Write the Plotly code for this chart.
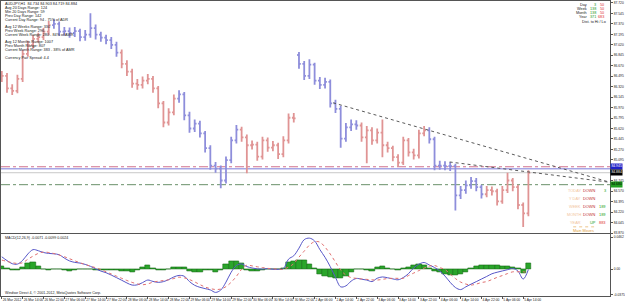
import plotly.graph_objects as go

# ---------------- DATA ----------------
# 2-hour bars, x = hours since 26 Mar 2012 00:00 (chart time axis, weekend removed)
bar_hours = list(range(0, 204, 2))

opens = [86.45, 86.50, 86.29, 86.25, 86.45, 86.87, 87.02, 87.12, 87.15, 87.24,
         87.35, 87.37, 87.24, 87.25, 87.22, 87.25, 87.15, 87.19, 87.30, 87.19,
         87.14, 87.10, 87.02, 86.89, 86.70, 86.57, 86.37, 86.35, 86.42, 86.45,
         86.29, 86.04, 85.72, 85.89, 86.12, 86.19, 85.84, 85.62, 85.70, 85.54,
         85.29, 85.00, 84.95, 84.75, 85.09, 85.42, 85.60, 85.47, 85.34, 85.35,
         85.15, 85.42, 85.30, 85.34, 85.19, 85.42, 85.80, 86.85, 86.70, 86.50,
         86.69, 86.42, 86.35, 86.40, 86.04, 85.95, 85.45, 85.64, 85.69, 85.67,
         85.47, 85.59, 85.42, 85.55, 85.34, 85.29, 85.14, 85.05, 85.42, 85.22,
         85.17, 85.54, 85.59, 85.44, 85.00, 85.00, 84.99, 84.99, 84.50, 84.59,
         84.67, 84.74, 84.64, 84.52, 84.59, 84.57, 84.40, 84.59, 84.75, 84.64,
         84.34, 84.20]
highs = [86.58, 86.55, 86.36, 86.52, 86.93, 87.09, 87.18, 87.22, 87.30, 87.42,
         87.45, 87.41, 87.32, 87.31, 87.32, 87.29, 87.27, 87.55, 87.36, 87.24,
         87.19, 87.15, 87.07, 86.94, 86.76, 86.62, 86.45, 86.49, 86.53, 86.50,
         86.33, 86.08, 85.96, 86.19, 86.26, 86.23, 85.90, 85.77, 85.75, 85.58,
         85.34, 85.06, 85.00, 85.15, 85.48, 85.68, 85.65, 85.52, 85.42, 85.40,
         85.48, 85.47, 85.41, 85.38, 85.49, 85.87, 85.88, 86.90, 86.75, 86.78,
         86.72, 86.48, 86.47, 86.44, 86.10, 86.00, 85.71, 85.77, 85.76, 85.72,
         85.66, 85.64, 85.62, 85.77, 85.40, 85.33, 85.19, 85.48, 85.46, 85.28,
         85.60, 85.66, 85.64, 85.48, 85.08, 85.07, 85.06, 85.03, 84.66, 84.75,
         84.81, 84.79, 84.68, 84.66, 84.65, 84.61, 84.66, 84.88, 84.79, 84.68,
         84.38, 84.92]
lows = [86.40, 86.22, 86.18, 86.21, 86.40, 86.82, 86.96, 87.06, 87.10, 87.18,
        87.29, 87.17, 87.17, 87.14, 87.15, 87.08, 87.09, 87.14, 87.11, 87.07,
        87.03, 86.95, 86.82, 86.63, 86.50, 86.30, 86.27, 86.29, 86.36, 86.22,
        85.96, 85.64, 85.67, 85.84, 86.05, 85.76, 85.55, 85.56, 85.47, 85.22,
        84.93, 84.88, 84.62, 84.70, 85.04, 85.37, 85.40, 84.87, 85.27, 85.08,
        85.10, 85.23, 85.24, 85.11, 85.14, 85.37, 85.72, 86.62, 86.43, 86.45,
        86.35, 86.28, 86.29, 85.97, 85.88, 85.30, 85.40, 85.58, 85.60, 85.40,
        85.04, 85.35, 85.37, 85.14, 85.22, 85.07, 84.98, 85.01, 85.15, 85.10,
        85.12, 85.49, 85.37, 84.92, 84.93, 84.92, 84.91, 84.25, 84.44, 84.53,
        84.61, 84.57, 84.45, 84.47, 84.50, 84.33, 84.36, 84.54, 84.57, 84.27,
        83.97, 84.15]
closes = [86.50, 86.29, 86.25, 86.45, 86.87, 87.02, 87.12, 87.15, 87.24, 87.35,
          87.37, 87.24, 87.25, 87.22, 87.25, 87.15, 87.19, 87.30, 87.19, 87.14,
          87.10, 87.02, 86.89, 86.70, 86.57, 86.37, 86.35, 86.42, 86.45, 86.29,
          86.04, 85.72, 85.89, 86.12, 86.19, 85.84, 85.62, 85.70, 85.54, 85.29,
          85.00, 84.95, 84.75, 85.09, 85.42, 85.60, 85.47, 85.34, 85.35, 85.15,
          85.42, 85.30, 85.34, 85.19, 85.42, 85.80, 85.79, 86.70, 86.50, 86.69,
          86.42, 86.35, 86.40, 86.04, 85.95, 85.45, 85.64, 85.69, 85.67, 85.47,
          85.59, 85.42, 85.55, 85.34, 85.29, 85.14, 85.05, 85.42, 85.22, 85.17,
          85.54, 85.59, 85.44, 85.00, 85.00, 84.99, 84.99, 84.50, 84.59, 84.67,
          84.74, 84.64, 84.52, 84.59, 84.57, 84.40, 84.59, 84.75, 84.64, 84.34,
          84.20, 84.88]

# colour segments of the bar chart (start index, kind)
segment_starts = [0, 10, 23, 34, 46, 57, 69, 82, 93]
segment_kinds = ["bear", "bull", "bear", "bull", "bear", "bull", "bear", "bull", "bear"]

macd_main = [0.0178, 0.0123, 0.0078, 0.0072, 0.0126, 0.0219, 0.0282, 0.0266, 0.0240, 0.0227,
             0.0221, 0.0208, 0.0159, 0.0118, 0.0097, 0.0087, 0.0068, 0.0040, 0.0003, -0.0029,
             -0.0053, -0.0087, -0.0124, -0.0162, -0.0201, -0.0232, -0.0228, -0.0196, -0.0159, -0.0179,
             -0.0192, -0.0182, -0.0153, -0.0114, -0.0092, -0.0104, -0.0181, -0.0235, -0.0264, -0.0283,
             -0.0302, -0.0338, -0.0303, -0.0189, -0.0045, 0.0052, 0.0075, 0.0036, 0.0016, 0.0003,
             0.0000, 0.0007, -0.0003, -0.0004, 0.0007, 0.0144, 0.0193, 0.0303, 0.0426, 0.0448,
             0.0407, 0.0283, 0.0170, 0.0035, -0.0120, -0.0257, -0.0243, -0.0175, -0.0136, -0.0147,
             -0.0159, -0.0181, -0.0133, -0.0114, -0.0126, -0.0142, -0.0155, -0.0123, -0.0066, 0.0017,
             0.0071, 0.0095, 0.0059, 0.0023, -0.0027, -0.0101, -0.0192, -0.0267, -0.0297, -0.0257,
             -0.0218, -0.0182, -0.0144, -0.0107, -0.0068, -0.0046, -0.0027, -0.0009, 0.0009, -0.0029,
             -0.0144, -0.0007]
macd_signal = [0.0130, 0.0111, 0.0092, 0.0082, 0.0092, 0.0142, 0.0188, 0.0227, 0.0247, 0.0240,
               0.0225, 0.0204, 0.0179, 0.0150, 0.0120, 0.0091, 0.0066, 0.0043, 0.0020, -0.0007,
               -0.0039, -0.0071, -0.0103, -0.0134, -0.0165, -0.0193, -0.0215, -0.0227, -0.0215, -0.0189,
               -0.0176, -0.0166, -0.0155, -0.0137, -0.0117, -0.0127, -0.0152, -0.0186, -0.0225, -0.0260,
               -0.0283, -0.0296, -0.0290, -0.0254, -0.0191, -0.0105, -0.0004, 0.0056, 0.0046, 0.0033,
               0.0022, 0.0010, 0.0004, 0.0000, -0.0004, 0.0029, 0.0079, 0.0173, 0.0260, 0.0347,
               0.0397, 0.0390, 0.0318, 0.0217, 0.0101, -0.0014, -0.0087, -0.0123, -0.0134, -0.0142,
               -0.0149, -0.0156, -0.0159, -0.0149, -0.0137, -0.0134, -0.0134, -0.0134, -0.0094, -0.0058,
               -0.0022, 0.0014, 0.0043, 0.0051, 0.0022, -0.0007, -0.0072, -0.0137, -0.0188, -0.0217,
               -0.0231, -0.0217, -0.0195, -0.0181, -0.0152, -0.0120, -0.0094, -0.0065, -0.0040, -0.0039,
               -0.0039, -0.0058]
macd_hist = [0.0048, 0.0012, -0.0014, -0.0010, 0.0033, 0.0078, 0.0094, 0.0039, -0.0007, -0.0013,
             -0.0004, 0.0004, -0.0020, -0.0032, -0.0023, -0.0004, 0.0001, -0.0003, -0.0017, -0.0022,
             -0.0014, -0.0016, -0.0022, -0.0027, -0.0036, -0.0039, -0.0013, 0.0030, 0.0056, 0.0010,
             -0.0016, -0.0016, 0.0001, 0.0023, 0.0025, 0.0023, -0.0029, -0.0049, -0.0039, -0.0023,
             -0.0019, -0.0042, -0.0013, 0.0065, 0.0108, 0.0116, 0.0079, -0.0020, -0.0030, -0.0030,
             -0.0022, -0.0003, -0.0007, -0.0004, 0.0012, 0.0101, 0.0116, 0.0130, 0.0123, 0.0072,
             0.0010, -0.0072, -0.0101, -0.0116, -0.0130, -0.0130, -0.0101, -0.0052, 0.0000, -0.0006,
             -0.0010, -0.0025, 0.0026, 0.0035, 0.0012, -0.0007, -0.0020, 0.0012, 0.0027, 0.0051,
             0.0065, 0.0058, 0.0016, -0.0027, -0.0049, -0.0072, -0.0087, -0.0087, -0.0072, -0.0040,
             0.0013, 0.0035, 0.0051, 0.0058, 0.0058, 0.0051, 0.0043, 0.0036, 0.0022, 0.0010,
             -0.0058, 0.0087]

# trend lines drawn on the chart (hour, price)
trend_a_hours = [127.1, 233.3]
trend_a_prices = [86.05, 84.72]
trend_b_hours = [171.8, 233.3]
trend_b_prices = [85.06, 84.72]

# horizontal levels
level_pink = 84.98
level_purple = 84.945
level_bid = 84.88
level_green = 84.68

# axis ticks (the 84.920 label is hidden under the price boxes on the original)
price_ticks = [87.720, 87.545, 87.370, 87.195, 87.020, 86.845, 86.670, 86.495, 86.320,
               86.145, 85.970, 85.795, 85.620, 85.445, 85.270, 85.095, 84.745,
               84.570, 84.395, 84.220, 84.045, 83.870]
macd_ticks = [0.0462, 0.0, -0.0375]
macd_tick_text = ["0.0462", "0.00", "-0.0375"]
date_tick_hours = [0, 8, 16, 24, 32, 40, 48, 56, 64, 72, 80, 88, 96, 104, 112,
                   120, 128, 136, 144, 152, 160, 168, 176, 184, 192, 200]
date_tick_labels = ["26 Mar 2012", "26 Mar 14:00", "26 Mar 22:00", "27 Mar 06:00", "27 Mar 14:00",
                    "27 Mar 22:00", "28 Mar 06:00", "28 Mar 14:00", "28 Mar 22:00", "29 Mar 06:00",
                    "29 Mar 14:00", "29 Mar 22:00", "30 Mar 06:00", "30 Mar 14:00", "30 Mar 22:00",
                    "2 Apr 06:00", "2 Apr 14:00", "2 Apr 22:00", "3 Apr 06:00", "3 Apr 14:00",
                    "3 Apr 22:00", "4 Apr 06:00", "4 Apr 14:00", "4 Apr 22:00", "5 Apr 06:00",
                    "5 Apr 14:00"]

info_lines = ["AUDJPY,H1  84.734 84.903 84.719 84.884",
              "Avg 20 Days Range: 124",
              "Min 20 Days Range: 59",
              "Prev Day Range: 142",
              "Current Day Range: 94 - 75% of ADR",
              "Avg 12 Weeks Range: 330",
              "Prev Week Range: 296",
              "Current Week Range: 280 - 84% of AWR",
              "Avg 12 Months Range: 1007",
              "Prev Month Range: 807",
              "Current Month Range: 383 - 38% of AMR",
              "Currency Pair Spread: 4.4"]

range_names = ["Day", "Week", "Month", "Year"]
range_first = ["3", "138", "138", "371"]
range_second = ["50", "50", "50", "683"]

move_names = ["TODAY", "Y DAY", "WEEK", "MONTH", "YEAR"]
move_dirs = ["DOWN", "DOWN", "DOWN", "DOWN", "UP"]
move_pips = ["3", "", "189", "189", "883"]

# ---------------- LAYOUT HELPERS ----------------
W, H = 625, 303
ML, MR, MT, MB = 0, 13, 0, 7
PW = W - ML - MR
PH = H - MT - MB
FONT = "Liberation Sans"


def px(x):
    return x / PW


def py(y):
    return 1 - y / PH


fig = go.Figure()

seg_colors = {"bear": "#e09494", "bull": "#8e8edb"}
bounds = segment_starts + [len(bar_hours)]
for i, kind in enumerate(segment_kinds):
    s, e = bounds[i], bounds[i + 1]
    c = seg_colors[kind]
    fig.add_trace(go.Ohlc(
        x=bar_hours[s:e], open=opens[s:e], high=highs[s:e], low=lows[s:e], close=closes[s:e],
        increasing=dict(line=dict(color=c, width=1.8)),
        decreasing=dict(line=dict(color=c, width=1.8)),
        tickwidth=0.35, xaxis="x", yaxis="y", showlegend=False, hoverinfo="skip"))

for hx, hy in ((trend_a_hours, trend_a_prices), (trend_b_hours, trend_b_prices)):
    fig.add_trace(go.Scatter(x=hx, y=hy, mode="lines", xaxis="x", yaxis="y",
                             line=dict(color="#5a5a5a", width=1, dash="dot"),
                             showlegend=False, hoverinfo="skip"))

fig.add_trace(go.Bar(x=bar_hours, y=macd_hist, xaxis="x2", yaxis="y2", width=2,
                     marker=dict(color="#2aa52a", line=dict(color="#0d600d", width=0.5)),
                     showlegend=False, hoverinfo="skip"))
fig.add_trace(go.Scatter(x=bar_hours, y=macd_main, mode="lines", xaxis="x2", yaxis="y2",
                         line=dict(color="#5656c8", width=1, shape="spline"),
                         showlegend=False, hoverinfo="skip"))
fig.add_trace(go.Scatter(x=bar_hours, y=macd_signal, mode="lines", xaxis="x2", yaxis="y2",
                         line=dict(color="#e07070", width=1, dash="dot", shape="spline"),
                         showlegend=False, hoverinfo="skip"))

shapes = []
for lvl, col, dash, wd in ((level_bid, "#c8c8c8", "solid", 1),
                           (level_pink, "#d0708c", "dashdot", 1),
                           (level_purple, "#7b7bd9", "solid", 1),
                           (level_green, "#6a906a", "dashdot", 1)):
    shapes.append(dict(type="line", xref="paper", yref="y", x0=0, x1=1, y0=lvl, y1=lvl,
                       line=dict(color=col, width=wd, dash=dash), layer="below"))
# dashed rule above "Main Moves"
shapes.append(dict(type="line", xref="paper", yref="paper", x0=px(575), x1=px(596),
                   y0=py(226.6), y1=py(226.6), line=dict(color="#e0a040", width=0.6, dash="dot")))

ann = []
info_y = [3, 7, 11, 15, 19, 26, 30, 34, 41, 45, 49, 57]
for t, yy in zip(info_lines, info_y):
    ann.append(dict(text=t, x=px(2), y=py(yy), xref="paper", yref="paper", xanchor="left",
                    yanchor="middle", showarrow=False, font=dict(size=3.8, color="#202020", family=FONT)))

rows_y = [4, 8, 12, 16]
for name, a, b, yy in zip(range_names, range_first, range_second, rows_y):
    ann.append(dict(text=name, x=px(591), y=py(yy), xref="paper", yref="paper", xanchor="right",
                    yanchor="middle", showarrow=False, font=dict(size=3.8, color="#202020", family=FONT)))
    ann.append(dict(text=a, x=px(600), y=py(yy), xref="paper", yref="paper", xanchor="right",
                    yanchor="middle", showarrow=False, font=dict(size=3.8, color="#1a9a1a", family=FONT)))
    ann.append(dict(text=b, x=px(608), y=py(yy), xref="paper", yref="paper", xanchor="right",
                    yanchor="middle", showarrow=False, font=dict(size=3.8, color="#e03030", family=FONT)))
ann.append(dict(text="Dist. to Hi / Lo", x=px(596), y=py(21.5), xref="paper", yref="paper",
                xanchor="center", yanchor="middle", showarrow=False,
                font=dict(size=3.8, color="#202020", family=FONT)))

moves_y = [190, 198, 206, 214, 222]
for name, d, p, yy in zip(move_names, move_dirs, move_pips, moves_y):
    ann.append(dict(text=name, x=px(585), y=py(yy), xref="paper", yref="paper", xanchor="right",
                    yanchor="middle", showarrow=False, font=dict(size=3.9, color="#f2c49c", family=FONT)))
    ann.append(dict(text=d, x=px(600), y=py(yy), xref="paper", yref="paper", xanchor="right",
                    yanchor="middle", showarrow=False,
                    font=dict(size=3.9, color="#c02828" if d == "DOWN" else "#20a020", family=FONT)))
    if p:
        ann.append(dict(text=p, x=px(610), y=py(yy), xref="paper", yref="paper", xanchor="right",
                        yanchor="middle", showarrow=False,
                        font=dict(size=3.9, color="#e03030" if d == "UP" else "#20a020", family=FONT)))
ann.append(dict(text="Main Moves", x=px(585), y=py(229.8), xref="paper", yref="paper",
                xanchor="center", yanchor="middle", showarrow=False,
                font=dict(size=3.9, color="#e0a040", family=FONT)))

# price labels on the axis
for lvl, txt, bg, fg in ((84.99, "84.945", "#2020c8", "#ffffff"),
                         (level_bid, "84.884", "#000000", "#ffffff"),
                         (level_green, "84.680", "#22a022", "#000000")):
    ann.append(dict(text=txt, x=1, y=lvl, xref="paper", yref="y", xanchor="left", yanchor="middle",
                    showarrow=False, bgcolor=bg, borderpad=0.4,
                    font=dict(size=3.4, color=fg, family=FONT)))

ann.append(dict(text="MACD(12,26,9) -0.0071 -0.0099 0.0024", x=px(2), y=py(237.5), xref="paper",
                yref="paper", xanchor="left", yanchor="middle", showarrow=False,
                font=dict(size=3.6, color="#202020", family=FONT)))
ann.append(dict(text="Windsor Direct 4, \u00a9 2001-2012, MetaQuotes Software Corp.", x=px(2),
                y=py(292.5), xref="paper", yref="paper", xanchor="left", yanchor="middle",
                showarrow=False, font=dict(size=3.6, color="#202020", family=FONT)))

xr = [-0.3, 233.3]
axis_common = dict(showgrid=False, zeroline=False, showline=True, mirror=True,
                   linecolor="#555555", linewidth=1, fixedrange=True)

fig.update_layout(
    width=W, height=H, autosize=False,
    margin=dict(l=ML, r=MR, t=MT, b=MB, pad=0),
    paper_bgcolor="white", plot_bgcolor="white",
    showlegend=False, bargap=0,
    font=dict(family=FONT, size=3.4, color="#202020"),
    xaxis=dict(domain=[0, 1], range=xr, anchor="y", showticklabels=False, ticks="",
               rangeslider=dict(visible=False), **axis_common),
    yaxis=dict(domain=[py(233), 1], range=[83.868, 87.7533], anchor="x", side="right",
               tickvals=price_ticks, ticktext=["%.3f" % v for v in price_ticks],
               ticks="outside", ticklen=2, tickcolor="#555555",
               tickfont=dict(size=3.3, color="#202020"), **axis_common),
    xaxis2=dict(domain=[0, 1], range=xr, anchor="y2", tickvals=date_tick_hours,
                ticktext=date_tick_labels, ticklabelposition="outside right", tickangle=0,
                ticks="outside", ticklen=2, tickcolor="#555555",
                tickfont=dict(size=3.3, color="#202020"), rangeslider=dict(visible=False),
                **axis_common),
    yaxis2=dict(domain=[0, py(234)], range=[-0.039, 0.0505], anchor="x2", side="right",
                tickvals=macd_ticks, ticktext=macd_tick_text, ticks="outside", ticklen=2,
                tickcolor="#555555", tickfont=dict(size=3.3, color="#202020"), **axis_common),
    shapes=shapes,
    annotations=ann,
)

fig.write_html("out.html", config={"displayModeBar": False})
